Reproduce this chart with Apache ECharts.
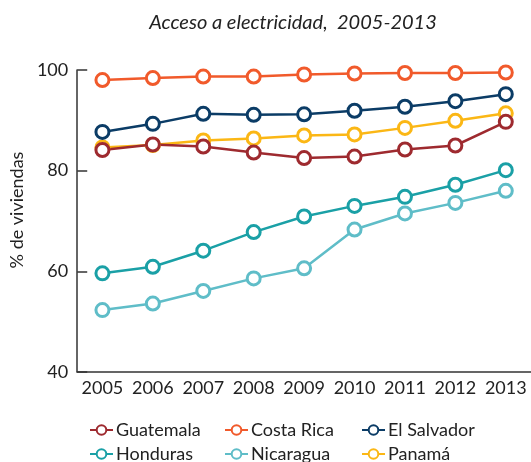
<!DOCTYPE html>
<html><head><meta charset="utf-8">
<script src="https://cdn.jsdelivr.net/npm/echarts@6/dist/echarts.min.js"></script>
<style>html,body{margin:0;padding:0;background:#fff}#c{width:531px;height:462px}</style>
</head><body><div id="c"></div>
<script>
const years = ['2005','2006','2007','2008','2009','2010','2011','2012','2013'];
const guatemala = [84.1, 85.2, 84.8, 83.6, 82.5, 82.8, 84.2, 85.0, 89.7];
const costaRica = [98.0, 98.4, 98.7, 98.7, 99.1, 99.3, 99.4, 99.4, 99.5];
const elSalvador = [87.7, 89.3, 91.3, 91.1, 91.2, 91.9, 92.7, 93.8, 95.2];
const honduras = [59.6, 60.9, 64.1, 67.8, 70.9, 73.0, 74.8, 77.2, 80.1];
const nicaragua = [52.3, 53.6, 56.1, 58.6, 60.6, 68.3, 71.5, 73.6, 76.0];
const panama = [84.6, 85.1, 86.0, 86.4, 87.0, 87.2, 88.5, 89.9, 91.4];
const yTicks = [40, 60, 80, 100];

const FONT = 'Lato';
const names = ['Guatemala','Costa Rica','El Salvador','Honduras','Nicaragua','Panamá'];
const colors = ['#9e2a2f','#f15a2b','#0b3c66','#1aa0a6','#5fbdc8','#fbb715'];
const datas = [guatemala, costaRica, elSalvador, honduras, nicaragua, panama];
const order = [4,3,5,0,2,1];

const chart = echarts.init(document.getElementById('c'));
function leg(left, data){
  return {orient:'vertical', left:left, top:421, height:80, padding:0,
    itemWidth:23, itemHeight:12, itemGap:6, data:data,
    textStyle:{fontFamily:FONT, fontSize:18, color:'#222', padding:[0,0,0,-2]}};
}
chart.setOption({
  animation:false,
  title:{text:'Acceso a electricidad,  2005-2013', left:288, textAlign:'center', top:8,
    textStyle:{fontFamily:FONT, fontStyle:'italic', fontWeight:'normal', fontSize:20, color:'#222'}},
  legend:[
    leg(89, ['Guatemala','Honduras']),
    leg(224, ['Costa Rica','Nicaragua']),
    leg(361, ['El Salvador','Panamá'])
  ],
  grid:{left:71, top:70, height:302, width:466},
  xAxis:{type:'category', data:years, boundaryGap:true,
    axisLine:{lineStyle:{color:'#333', width:1.5}},
    axisTick:{inside:true, length:8, lineStyle:{color:'#333', width:1.5}},
    axisLabel:{interval:0, fontFamily:FONT, fontSize:18, color:'#222', margin:7}},
  yAxis:{type:'value', min:yTicks[0], max:yTicks[yTicks.length-1], interval:20,
    name:'% de viviendas', nameLocation:'middle', nameGap:36,
    nameTextStyle:{fontFamily:FONT, fontSize:18, color:'#222', padding:[0,0,0,22]},
    axisLine:{show:true, lineStyle:{color:'#333', width:1.5}},
    axisTick:{show:true, inside:true, length:10, lineStyle:{color:'#333', width:1.5}},
    splitLine:{show:false},
    axisLabel:{fontFamily:FONT, fontSize:18, color:'#222', margin:9}},
  series: order.map(i => ({
    name:names[i], type:'line', data:datas[i], color:colors[i],
    symbol:'circle', symbolSize:13, showAllSymbol:true,
    lineStyle:{width:2.5, color:colors[i]},
    itemStyle:{color:'#fff', borderColor:colors[i], borderWidth:3}
  }))
});
</script></body></html>
